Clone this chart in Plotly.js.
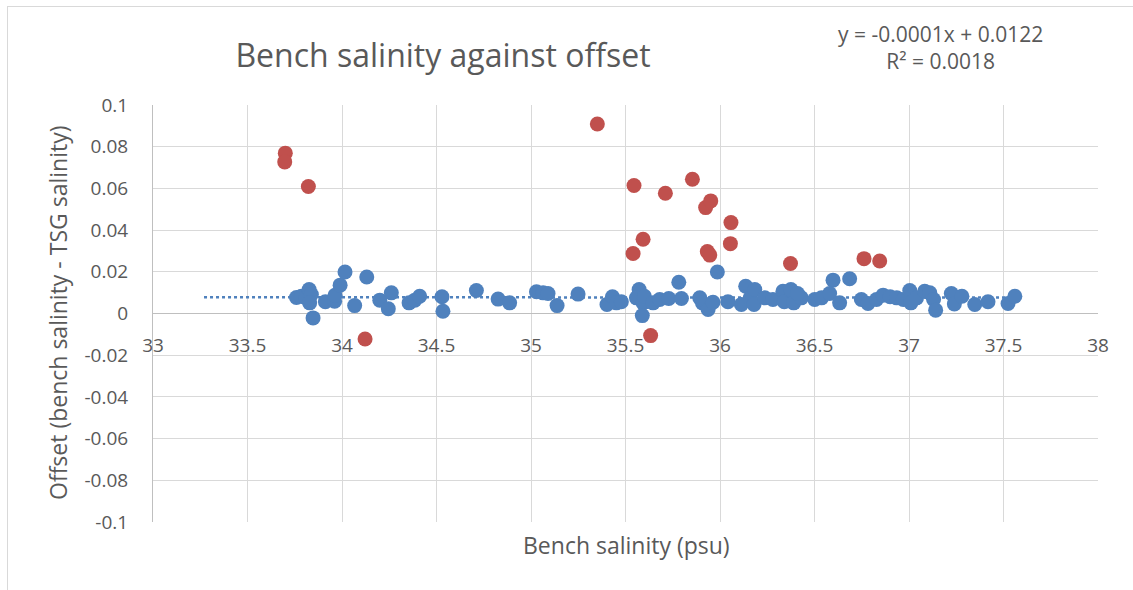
<!DOCTYPE html>
<html>
<head>
<meta charset="utf-8">
<script src="https://cdn.plot.ly/plotly-3.0.1.min.js"></script>
<style>
  html, body { margin: 0; padding: 0; background: #ffffff; overflow: hidden; }
  #frame { position: absolute; left: 7px; top: 6px; width: 1140px; height: 600px; border: 1px solid #d9d9d9; box-sizing: border-box; }
  #chart { position: absolute; left: 0; top: 0; width: 1133px; height: 590px; }
</style>
</head>
<body>
<div id="frame"></div>
<div id="chart"></div>
<script>
// Blue series: good samples (bench salinity, offset)
const blueX = [33.759, 33.785, 33.81, 33.826, 33.838, 33.829, 33.847, 33.912, 33.961, 33.963, 33.99, 34.016,
  34.067, 34.131, 34.2, 34.245, 34.261, 34.355, 34.385, 34.411, 34.529, 34.534, 34.711, 34.826, 34.887,
  35.029, 35.064, 35.09, 35.138, 35.249, 35.402, 35.431, 35.452, 35.478, 35.572, 35.558, 35.593, 35.589,
  35.6, 35.646, 35.681, 35.729, 35.782, 35.796, 35.893, 35.907, 35.937, 35.963, 35.986, 36.042, 36.113,
  36.136, 36.16, 36.184, 36.18, 36.237, 36.28, 36.333, 36.34, 36.378, 36.39, 36.375, 36.43, 36.41, 36.501,
  36.537, 36.598, 36.58, 36.633, 36.686, 36.748, 36.783, 36.828, 36.863, 36.9, 36.935, 36.97, 37.004,
  37.01, 37.04, 37.083, 37.11, 37.13, 37.141, 37.224, 37.24, 37.28, 37.348, 37.418, 37.524, 37.56];
const blueY = [0.0077, 0.0083, 0.0075, 0.0115, 0.0091, 0.0051, -0.0021, 0.0056, 0.0059, 0.0087, 0.0136, 0.0199,
  0.0038, 0.0175, 0.0064, 0.0023, 0.0099, 0.0051, 0.0064, 0.0083, 0.008, 0.0011, 0.011, 0.0069, 0.0051,
  0.0104, 0.0099, 0.0096, 0.0038, 0.0093, 0.0043, 0.008, 0.0051, 0.0056, 0.0115, 0.0075, 0.0051, -0.001,
  0.0083, 0.0051, 0.0067, 0.0072, 0.015, 0.0072, 0.0075, 0.0051, 0.0019, 0.0054, 0.0199, 0.0056, 0.0043,
  0.0131, 0.0075, 0.0115, 0.0043, 0.0075, 0.0067, 0.0107, 0.0056, 0.0107, 0.0051, 0.0115, 0.0075, 0.0096, 0.0067,
  0.0075, 0.016, 0.0096, 0.0051, 0.0167, 0.0067, 0.0048, 0.0067, 0.0088, 0.008, 0.0075, 0.0067, 0.011,
  0.0051, 0.0075, 0.0107, 0.0099, 0.0067, 0.0016, 0.0096, 0.0046, 0.0083, 0.0043, 0.0056, 0.0048, 0.0083];

// Red series: outliers
const redX = [33.70, 33.697, 33.822, 34.122, 35.351, 35.545, 35.711, 35.854, 35.924, 35.951, 36.058,
  35.593, 35.54, 36.055, 35.933, 35.946, 36.373, 35.633, 36.762, 36.845];
const redY = [0.0769, 0.0727, 0.0609, -0.0122, 0.0909, 0.0614, 0.0577, 0.0644, 0.0508, 0.054, 0.0436,
  0.0356, 0.0288, 0.0335, 0.0297, 0.028, 0.024, -0.0106, 0.0263, 0.0252];

// Trendline extent (x range) fitted to the blue series
const trendRange = [33.27, 37.55];

const xTickVals = [33, 33.5, 34, 34.5, 35, 35.5, 36, 36.5, 37, 37.5, 38];
const xTickText = ["33", "33.5", "34", "34.5", "35", "35.5", "36", "36.5", "37", "37.5", "38"];
const yTickVals = [0.1, 0.08, 0.06, 0.04, 0.02, 0, -0.02, -0.04, -0.06, -0.08, -0.1];
const yTickText = ["0.1", "0.08", "0.06", "0.04", "0.02", "0", "-0.02", "-0.04", "-0.06", "-0.08", "-0.1"];

const titleText = "Bench salinity against offset";
const eqText = "y = -0.0001x + 0.0122<br>R² = 0.0018";
const xTitle = "Bench salinity (psu)";
const yTitle = "Offset (bench salinity - TSG salinity)";

// least squares fit on blue series
function fit(xs, ys) {
  const n = xs.length;
  let sx = 0, sy = 0, sxx = 0, sxy = 0;
  for (let i = 0; i < n; i++) { sx += xs[i]; sy += ys[i]; sxx += xs[i] * xs[i]; sxy += xs[i] * ys[i]; }
  const m = (n * sxy - sx * sy) / (n * sxx - sx * sx);
  const b = (sy - m * sx) / n;
  return [m, b];
}
const [m, b] = fit(blueX, blueY);
const trendX = trendRange;
const trendY = trendRange.map(x => m * x + b);

const font = "'Open Sans', Lato, sans-serif";
const grey = "#595959";

const traces = [
  { x: trendX, y: trendY, mode: "lines", type: "scatter", hoverinfo: "skip",
    line: { color: "#4F81BD", width: 2.5, dash: "dot" } },
  { x: blueX, y: blueY, mode: "markers", type: "scatter",
    marker: { color: "#4F81BD", size: 15 } },
  { x: redX, y: redY, mode: "markers", type: "scatter",
    marker: { color: "#C0504D", size: 15 } }
];

const layout = {
  width: 1133, height: 590,
  margin: { l: 153, r: 35, t: 105, b: 68, pad: 0 },
  paper_bgcolor: "rgba(0,0,0,0)",
  plot_bgcolor: "rgba(0,0,0,0)",
  showlegend: false,
  font: { family: font, color: grey, size: 16 },
  title: { text: titleText, font: { family: font, size: 32, color: grey },
           x: 443 / 1133, xanchor: "center", y: 1 - 56 / 590, yanchor: "middle" },
  xaxis: {
    range: [33, 38], tickvals: xTickVals, ticktext: xTickText,
    anchor: "free", position: 0.5,
    showgrid: true, gridcolor: "#d9d9d9", gridwidth: 1,
    zeroline: false, showline: false,
    ticks: "outside", ticklen: 15, tickcolor: "rgba(0,0,0,0)",
    tickfont: { family: font, size: 19, color: grey }
  },
  yaxis: {
    range: [-0.1, 0.1], tickvals: yTickVals, ticktext: yTickText,
    showgrid: true, gridcolor: "#d9d9d9", gridwidth: 1,
    zeroline: true, zerolinecolor: "#bfbfbf", zerolinewidth: 1,
    showline: true, linecolor: "#bfbfbf", linewidth: 1,
    ticks: "outside", ticklen: 20, tickcolor: "rgba(0,0,0,0)",
    tickfont: { family: font, size: 19, color: grey }
  },
  annotations: [
    { text: eqText, xref: "paper", yref: "paper", x: (940 - 153) / 945, y: (522 - 48) / 417,
      xanchor: "center", yanchor: "middle", showarrow: false, align: "center",
      font: { family: font, size: 21, color: grey } },
    { text: xTitle, xref: "paper", yref: "paper", x: (626 - 153) / 945, y: (522 - 545) / 417,
      xanchor: "center", yanchor: "middle", showarrow: false,
      font: { family: font, size: 23, color: grey } },
    { text: yTitle, xref: "paper", yref: "paper", x: (58 - 153) / 945, y: (522 - 313) / 417,
      xanchor: "center", yanchor: "middle", showarrow: false, textangle: -90,
      font: { family: font, size: 23, color: grey } }
  ]
};

Plotly.newPlot("chart", traces, layout, { displayModeBar: false, staticPlot: true });
</script>
</body>
</html>
